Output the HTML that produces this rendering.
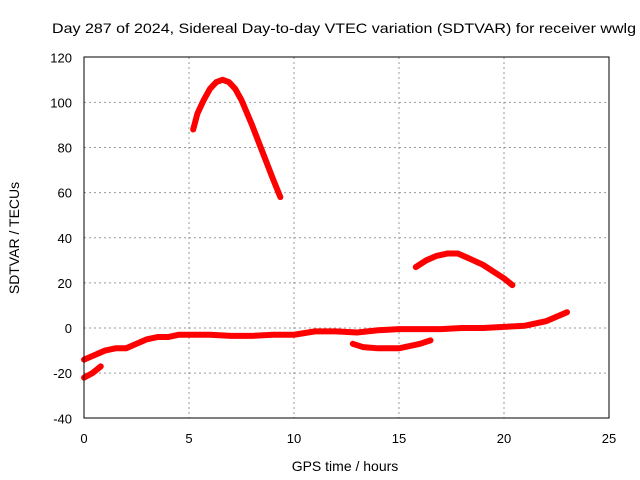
<!DOCTYPE html>
<html><head><meta charset="utf-8"><style>
body{margin:0;background:#fff}
svg{display:block;font-family:"Liberation Sans",sans-serif}
</style></head><body>
<svg id="chart" width="640" height="480">
<text x="52" y="33" font-size="14" textLength="584" lengthAdjust="spacingAndGlyphs">Day 287 of 2024, Sidereal Day-to-day VTEC variation (SDTVAR) for receiver wwlg</text>
<text x="345" y="471" text-anchor="middle" font-size="14">GPS time / hours</text>
<text transform="translate(19,238) rotate(-90)" text-anchor="middle" font-size="14">SDTVAR / TECUs</text>
<g id="grid"></g><g id="ticks"></g><g id="series"></g>
<rect x="84" y="57" width="525" height="361" fill="none" stroke="#000"/>
</svg>
<script>
const xTicks=[0,5,10,15,20,25];
const yTicks=[-40,-20,0,20,40,60,80,100,120];
const segA=[[5.2,88],[5.4,95],[5.7,101],[6,106],[6.3,109],[6.6,110],[6.9,109],[7.2,106],[7.5,101],[8,90],[8.5,78],[9,66],[9.35,58]];
const segB=[[15.8,27],[16.3,30],[16.8,32],[17.3,33],[17.8,33],[18.3,31],[19,28],[19.5,25],[20,22],[20.4,19]];
const segC=[[0,-14],[0.5,-12],[1,-10],[1.5,-9],[2,-9],[2.5,-7],[3,-5],[3.5,-4],[4,-4],[4.5,-3],[5,-3],[6,-3],[7,-3.5],[8,-3.5],[9,-3],[10,-3],[11,-1.5],[12,-1.5],[13,-2],[14,-1],[15,-0.5],[16,-0.5],[17,-0.5],[18,0],[19,0],[20,0.5],[21,1],[22,3],[22.5,5],[23,7]];
const segD=[[12.8,-7],[13.3,-8.5],[14,-9],[15,-9],[15.5,-8],[16,-7],[16.5,-5.5]];
const segE=[[0,-22],[0.4,-20],[0.8,-17]];
const NS='http://www.w3.org/2000/svg';
const X=v=>84+v*21, Y=v=>328-v*361/160;
const mk=(t,a,p)=>{const e=document.createElementNS(NS,t);for(const k in a)e.setAttribute(k,a[k]);p.appendChild(e);return e;};
const grid=document.getElementById('grid'),ticks=document.getElementById('ticks'),ser=document.getElementById('series');
xTicks.forEach(t=>{
 if(t>0&&t<25){const g=mk('line',{x1:X(t),x2:X(t),y1:57,y2:418,stroke:'#999','stroke-dasharray':'2,3','stroke-width':1},grid);
 
 }
 const l=mk('text',{x:X(t),y:443,'text-anchor':'middle','font-size':13},ticks);l.textContent=t;
 
 
});
yTicks.forEach(t=>{
 if(t>-40&&t<120){const g=mk('line',{x1:84,x2:609,y1:Y(t),y2:Y(t),stroke:'#999','stroke-dasharray':'2,3','stroke-width':1},grid);
 
 }
 const l=mk('text',{x:72,y:Y(t)+5,'text-anchor':'end','font-size':13},ticks);l.textContent=t;
 
 
});
[['arc-segment-a',segA],['arc-segment-b',segB],['baseline-segment',segC],['dip-segment',segD],['low-segment',segE]].forEach(([n,s])=>{
 const p=mk('polyline',{points:s.map(d=>X(d[0])+','+Y(d[1])).join(' '),fill:'none',stroke:'#f00','stroke-width':6,'stroke-linejoin':'round','stroke-linecap':'round'},ser);
 
 
});
</script>
</body></html>
